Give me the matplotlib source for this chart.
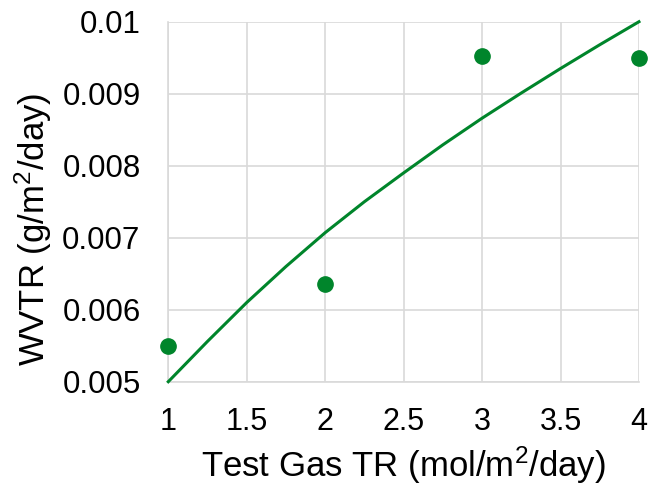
import matplotlib
matplotlib.use('Agg')
import matplotlib.pyplot as plt

plt.rcParams['font.family'] = ['Liberation Sans', 'DejaVu Sans']
plt.rcParams['mathtext.fontset'] = 'custom'
plt.rcParams['mathtext.rm'] = 'Liberation Sans'
plt.rcParams['mathtext.it'] = 'Liberation Sans'

# measured points
test_gas_tr = [1, 2, 3, 4]
wvtr = [0.00549, 0.00636, 0.00953, 0.00950]

# fitted curve
fit_x = [1, 1.25, 1.5, 1.75, 2, 2.25, 2.5, 2.75, 3, 3.25, 3.5, 3.75, 4]
fit_y = [0.0050, 0.00556, 0.00610, 0.00660, 0.00707, 0.00750, 0.00790,
         0.00829, 0.00866, 0.00901, 0.00935, 0.00968, 0.0100]

x_ticks = [1, 1.5, 2, 2.5, 3, 3.5, 4]
x_labels = ['1', '1.5', '2', '2.5', '3', '3.5', '4']
y_ticks = [0.005, 0.006, 0.007, 0.008, 0.009, 0.01]
y_labels = ['0.005', '0.006', '0.007', '0.008', '0.009', '0.01']

green = '#00852b'

fig = plt.figure(figsize=(6.51, 4.86), dpi=100)
ax = fig.add_axes([0.2585, 0.2146, 0.723, 0.7407])

ax.plot(fit_x, fit_y, color=green, linewidth=2.2, zorder=3, clip_on=False,
        solid_joinstyle='round')
ax.plot(test_gas_tr, wvtr, color=green, linestyle='', marker='o',
        markersize=11, zorder=4, clip_on=False)

ax.set_xlim(1, 4)
ax.set_ylim(0.005, 0.01)
ax.set_xticks(x_ticks)
ax.set_xticklabels(x_labels)
ax.set_yticks(y_ticks)
ax.set_yticklabels(y_labels)
ax.tick_params(axis='x', length=0, labelsize=22, colors='black', pad=18.5)
ax.tick_params(axis='y', length=0, labelsize=22.5, colors='black', pad=20)

ax.grid(True, color='#d9d9d9', linewidth=1.2)
ax.set_axisbelow(True)
for s in ['top', 'right']:
    ax.spines[s].set_visible(False)
for s in ['left', 'bottom']:
    ax.spines[s].set_color('#d9d9d9')
    ax.spines[s].set_linewidth(1.2)

fig.text(403 / 651, 1 - 477 / 486, 'Test Gas TR (mol/m$^2$/day)', fontsize=25,
         ha='center', va='baseline')
fig.text(33 / 651, 1 - 229 / 486, 'WVTR (g/m$^2$/day)', fontsize=25,
         ha='center', va='center', rotation=90)

fig.savefig('out.png', dpi=100)
